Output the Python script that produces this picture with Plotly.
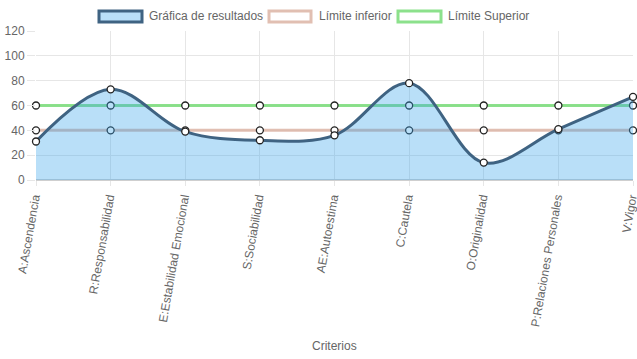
import plotly.graph_objects as go

categories = ["A:Ascendencia", "R:Responsabilidad", "E:Estabilidad Emocional", "S:Sociabilidad",
              "AE:Autoestima", "C:Cautela", "O:Originalidad", "P:Relaciones Personales", "V:Vigor"]
resultados = [31, 73, 39, 32, 36, 78, 14, 41, 67]
limite_inferior = [40, 40, 40, 40, 40, 40, 40, 40, 40]
limite_superior = [60, 60, 60, 60, 60, 60, 60, 60, 60]
y_ticks = [0, 20, 40, 60, 80, 100, 120]
legend_labels = ["Gráfica de resultados", "Límite inferior", "Límite Superior"]

W, H = 637, 359
L, R, T, B = 36, 4, 31, 179
pw, ph = W - L - R, H - T - B

res_line = "#3f6382"
res_fill = "rgba(54,162,235,0.35)"
inf_color = "rgba(220,180,165,0.85)"
sup_color = "rgba(120,220,120,0.85)"
marker = dict(size=7, color="white", line=dict(color="#222", width=1.3))

fig = go.Figure()
fig.add_trace(go.Scatter(x=categories, y=limite_superior, mode="lines+markers", name=legend_labels[2],
                         line=dict(color=sup_color, width=3, shape="spline"), marker=marker, cliponaxis=False))
fig.add_trace(go.Scatter(x=categories, y=limite_inferior, mode="lines+markers", name=legend_labels[1],
                         line=dict(color=inf_color, width=3, shape="spline"), marker=marker, cliponaxis=False))
fig.add_trace(go.Scatter(x=categories, y=resultados, mode="lines", name=legend_labels[0], fill="tozeroy",
                         fillcolor=res_fill, line=dict(color=res_line, width=3, shape="spline", smoothing=1.0)))
fig.add_trace(go.Scatter(x=categories, y=resultados, mode="markers", showlegend=False,
                         marker=marker, cliponaxis=False))

def px2x(px):
    return (px - L) / pw

def py2y(py):
    return (H - B - py) / ph

shapes = []
annotations = []
boxes = [(99, 142, "rgba(54,162,235,0.35)", res_line), (269, 311, "white", "rgba(220,180,165,0.85)"),
         (398, 441, "white", "rgba(120,220,120,0.85)")]
text_x = [147, 317, 446]
for (x0, x1, fc, lc), tx, lab in zip(boxes, text_x, legend_labels):
    shapes.append(dict(type="rect", xref="paper", yref="paper", x0=px2x(x0), x1=px2x(x1),
                       y0=py2y(22), y1=py2y(11), fillcolor=fc, line=dict(color=lc, width=3)))
    annotations.append(dict(xref="paper", yref="paper", x=px2x(tx), y=py2y(16), text=lab, showarrow=False,
                            xanchor="left", yanchor="middle", font=dict(size=12, color="#666")))
annotations.append(dict(xref="paper", yref="paper", x=px2x(334), y=py2y(346), text="Criterios", showarrow=False,
                        xanchor="center", yanchor="middle", font=dict(size=12, color="#666")))

fig.update_layout(
    width=W, height=H, margin=dict(l=L, r=R, t=T, b=B),
    paper_bgcolor="white", plot_bgcolor="white",
    font=dict(family="Liberation Sans, Arial, sans-serif", size=12, color="#666"),
    showlegend=False, shapes=shapes, annotations=annotations,
    xaxis=dict(type="category", range=[0, 8], showgrid=True, gridcolor="#e6e6e6", gridwidth=1,
               ticks="outside", ticklen=5, tickcolor="#e6e6e6", tickangle=-80, automargin=False,
               ticklabelshift=-2,
               showline=False, zeroline=False, tickfont=dict(size=12, color="#666")),
    yaxis=dict(range=[0, 120], tickvals=y_ticks, showgrid=True, gridcolor="#e6e6e6", gridwidth=1,
               ticks="outside", ticklen=8, tickcolor="#e6e6e6", zeroline=True, zerolinecolor="#cfcfcf",
               zerolinewidth=2, showline=False, automargin=False, tickfont=dict(size=12, color="#666")),
)
fig.write_html("out.html", config={"displayModeBar": False},
               post_script="document.body.style.margin='0';document.body.style.overflow='hidden';")
